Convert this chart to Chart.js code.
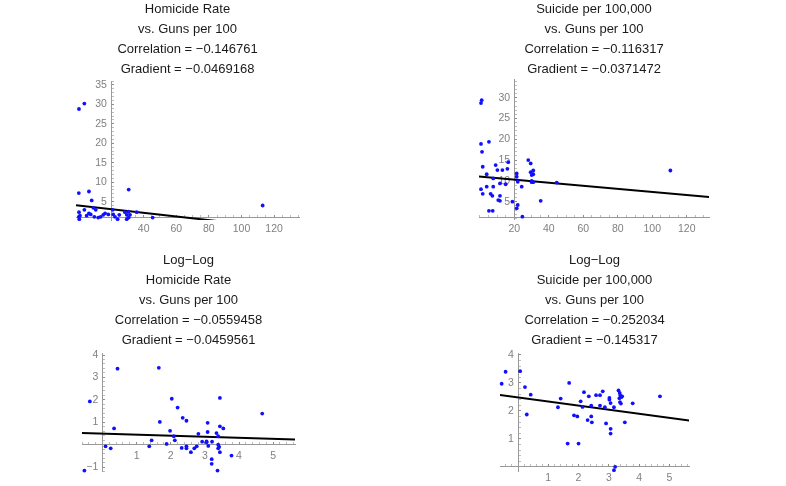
<!DOCTYPE html>
<html lang="en">
<head>
<meta charset="UTF-8">
<title>Guns per 100 vs homicide and suicide rates</title>
<style>
  body {
    margin: 0;
    width: 786px;
    height: 486px;
    overflow: hidden;
    position: relative;
    background: #fff;
  }
  .panel { position: absolute; }
</style>
</head>
<body>
<div class="panel" style="left:66px;top:-1px;width:243px;height:241px"><canvas id="c1"></canvas></div>
<div class="panel" style="left:469px;top:-1px;width:250px;height:240px"><canvas id="c2"></canvas></div>
<div class="panel" style="left:72px;top:250px;width:233px;height:236px"><canvas id="c3"></canvas></div>
<div class="panel" style="left:490px;top:250px;width:209px;height:236px"><canvas id="c4"></canvas></div>

<script src="https://cdn.jsdelivr.net/npm/chart.js"></script>
<script>
// --- Homicide rate vs guns per 100 ---
const homGuns = [0.3, 3.6, 0.2, 6.4, 8.1, 30.8, 113, 45.5, 35.7, 0.3, 0.2, 0.5, 0.9, 3.6, 5.0, 6.4,
  7.5, 9.1, 10.6, 9.7, 12.1, 13.6, 15.2, 16.3, 18.3, 21.0, 21.3, 22.4, 24.0, 25.0, 28.5, 29.6,
  30.6, 31.6, 30.8, 29.6];
const homRate = [28.8, 30.2, 7.2, 7.6, 5.3, 8.1, 4.0, 0.9, 2.3, 2.3, 1.1, 0.5, 1.4, 2.9, 1.4, 2.0,
  1.7, 3.4, 2.9, 1.1, 0.9, 1.1, 1.6, 2.0, 1.7, 2.9, 1.7, 1.1, 0.5, 1.6, 2.3, 1.6,
  2.4, 1.6, 0.9, 0.5];
const homFitX = [-1.5, 136];
const homFitY = [4.07, -2.38];

// --- Suicide per 100,000 vs guns per 100 ---
const suiGuns = [1.1, 0.7, 0.7, 1.3, 5.3, 1.7, 4.0, 0.7, 1.7, 4.0, 6.3, 7.3, 9.2, 7.8, 7.8, 10.2,
  13.1, 16.0, 16.5, 15.0, 11.7, 11.7, 10.7, 11.7, 5.3, 7.5, 18.9, 21.4, 21.4, 22.0, 22.0, 21.4,
  24.7, 24.3, 28.1, 29.5, 29.5, 31.0, 30.1, 31.0, 30.1, 30.1, 31.0, 44.6, 35.3, 110.5];
const suiRate = [29.4, 28.7, 18.9, 17.0, 19.4, 13.4, 11.6, 8.0, 6.9, 8.6, 6.9, 6.4, 13.8, 10.6, 8.6, 12.6,
  12.6, 12.9, 14.5, 9.2, 9.4, 6.4, 5.4, 5.2, 2.8, 2.8, 5.0, 11.8, 11.0, 9.8, 4.2, 3.4,
  1.4, 8.6, 15.0, 14.2, 12.1, 12.5, 11.4, 11.6, 10.0, 9.7, 9.7, 9.6, 5.2, 12.5];
const suiFitX = [-0.5, 133];
const suiFitY = [11.05, 6.1];

// --- Log-log homicide ---
const logHomX = [-0.53, -0.37, 0.09, 0.24, 0.34, 0.44, 1.44, 1.37, 1.65, 1.68, 1.88, 1.98, 2.03, 2.09,
  2.12, 2.2, 2.35, 2.46, 2.32, 2.46, 2.46, 2.59, 2.69, 2.76, 2.81, 2.92, 3.05, 3.05, 3.08, 3.08,
  3.10, 3.21, 3.2, 3.2, 3.34, 3.39, 3.39, 3.42, 3.39, 3.44, 3.44, 3.44, 3.54, 3.37, 3.78, 4.68];
const logHomY = [-1.15, 1.93, -0.07, -0.16, 0.73, 3.39, 0.2, -0.07, 3.43, 1.02, 0.04, 0.62, 2.05, 0.38,
  0.2, 1.66, 1.2, 1.07, -0.14, -0.07, -0.16, -0.33, -0.16, -0.07, 0.49, 0.14, 0.15, 0.11, 0.57, 0.98,
  -0.05, 0.14, -0.64, -0.85, 0.52, 0.38, 0.0, -0.09, -0.16, 0.82, 2.09, -0.33, 0.73, -1.15, -0.48, 1.39];
const logHomFitX = [-0.6, 5.64];
const logHomFitY = [0.52, 0.235];

// --- Log-log suicide ---
const logSuiX = [-0.54, -0.41, 0.07, 0.23, 0.42, 0.29, 1.32, 1.41, 1.69, 1.64, 1.85, 1.96, 2.0, 2.07,
  2.13, 2.18, 2.34, 2.30, 2.42, 2.42, 2.44, 2.58, 2.71, 2.71, 2.80, 2.87, 2.91, 3.02, 3.02, 3.06,
  3.06, 3.06, 3.17, 3.21, 3.17, 3.32, 3.36, 3.38, 3.41, 3.37, 3.40, 3.44, 3.35, 3.53, 3.79, 4.69];
const logSuiY = [2.97, 3.40, 3.42, 2.85, 2.58, 1.87, 2.13, 2.44, 3.0, 0.83, 1.84, 1.80, 0.83, 2.34,
  2.14, 2.67, 2.52, 1.67, 2.19, 1.80, 1.59, 2.56, 2.56, 2.19, 2.70, 2.13, 1.55, 2.46, 2.40, 2.28,
  1.36, 1.19, 2.13, 0.0, -0.12, 2.73, 2.64, 2.55, 2.49, 2.31, 2.26, 2.52, 2.45, 1.59, 2.27, 2.52];
const logSuiFitX = [-0.6, 5.66];
const logSuiFitY = [2.566, 1.658];

// tick labels
const gunTicks1 = [40, 60, 80, 100, 120];
const homTicks = [5, 10, 15, 20, 25, 30, 35];
const gunTicks2 = [20, 40, 60, 80, 100, 120];
const suiTicks = [5, 10, 15, 20, 25, 30];
const logXTicks = [1, 2, 3, 4, 5];
const logHomTicks = [-1, 1, 2, 3, 4];
const logSuiTicks = [1, 2, 3, 4];

const FONT = 'Liberation Sans';

// minor tick positions between a and b
function steps(a, b, s) {
  const out = [];
  for (let i = Math.round(a / s); i * s <= b + 1e-9; i++) out.push(+(i * s).toFixed(4));
  return out;
}

function fmt(v) {
  return v < 0 ? '\u2212' + Math.abs(v) : String(v);
}

function axis(dir, min, max, minor, labels, pos) {
  const isMajor = v => labels.some(l => Math.abs(l - v) < 1e-6);
  return {
    type: 'linear',
    position: pos,
    min: min,
    max: max,
    afterFit: s => { if (dir === 'x') s.height = 0; else s.width = 0; },
    afterBuildTicks: s => { s.ticks = minor.map(v => ({ value: v })); },
    grid: {
      drawOnChartArea: false,
      drawTicks: true,
      tickLength: -3, // Mathematica style: ticks point into the plot
      tickColor: ctx => (ctx.tick && isMajor(ctx.tick.value)) ? '#8c8c8c' : '#bdbdbd'
    },
    border: { color: '#999', width: 1 },
    ticks: {
      autoSkip: false,
      maxRotation: 0,
      padding: 8,
      color: '#808080',
      font: { family: FONT, size: 10.5 },
      callback: v => {
        if (!isMajor(v)) return '';
        const m = labels.find(l => Math.abs(l - v) < 1e-6);
        return dir === 'y' ? fmt(m) + '\u2009\u2009' : fmt(m);
      }
    }
  };
}

function makePanel(id, p) {
  new Chart(document.getElementById(id), {
    type: 'scatter',
    data: {
      datasets: [
        {
          data: p.xs.map((x, i) => ({ x: x, y: p.ys[i] })),
          backgroundColor: '#1010ff',
          borderWidth: 0,
          pointRadius: 1.9,
          clip: false
        },
        {
          data: p.fx.map((x, i) => ({ x: x, y: p.fy[i] })),
          showLine: true,
          borderColor: '#000',
          borderWidth: 2,
          pointRadius: 0,
          clip: 0
        }
      ]
    },
    options: {
      responsive: true,
      maintainAspectRatio: false,
      animation: false,
      events: [],
      layout: { padding: { left: 10, right: 10, top: 0, bottom: p.padB } },
      plugins: {
        legend: { display: false },
        tooltip: { enabled: false },
        title: {
          display: true,
          text: p.title,
          color: '#1a1a1a',
          font: { family: FONT, size: 13, weight: 'normal', lineHeight: '20px' },
          padding: { top: 0, bottom: p.gap }
        }
      },
      scales: {
        x: axis('x', p.xMin, p.xMax, p.xMinor, p.xLabels, { y: p.crossY }),
        y: axis('y', p.yMin, p.yMax, p.yMinor, p.yLabels, { x: p.crossX })
      }
    }
  });
}

makePanel('c1', {
  title: ['Homicide Rate', 'vs. Guns per 100', 'Correlation = \u22120.146761', 'Gradient = \u22120.0469168'],
  xs: homGuns, ys: homRate, fx: homFitX, fy: homFitY,
  xMin: -1.53, xMax: 135.3, yMin: 0.28, yMax: 36.0,
  xMinor: steps(0, 135, 5), yMinor: steps(1, 36, 1),
  xLabels: gunTicks1, yLabels: homTicks,
  crossX: 20, crossY: 0.9, padB: 20, gap: 2
});

makePanel('c2', {
  title: ['Suicide per 100,000', 'vs. Guns per 100', 'Correlation = \u22120.116317', 'Gradient = \u22120.0371472'],
  xs: suiGuns, ys: suiRate, fx: suiFitX, fy: suiFitY,
  xMin: -0.46, xMax: 132.9, yMin: 0.84, yMax: 34.5,
  xMinor: steps(0, 130, 5), yMinor: steps(1, 34, 1),
  xLabels: gunTicks2, yLabels: suiTicks,
  crossX: 20, crossY: 1.15, padB: 20, gap: 0
});

makePanel('c3', {
  title: ['Log\u2212Log', 'Homicide Rate', 'vs. Guns per 100', 'Correlation = \u22120.0559458', 'Gradient = \u22120.0459561'],
  xs: logHomX, ys: logHomY, fx: logHomFitX, fy: logHomFitY,
  xMin: -0.6, xMax: 5.64, yMin: -1.2, yMax: 4.09,
  xMinor: steps(-0.6, 5.6, 0.2), yMinor: steps(-1.2, 4.0, 0.2),
  xLabels: logXTicks, yLabels: logHomTicks,
  crossX: 0, crossY: 0, padB: 4, gap: 3
});

makePanel('c4', {
  title: ['Log\u2212Log', 'Suicide per 100,000', 'vs. Guns per 100', 'Correlation = \u22120.252034', 'Gradient = \u22120.145317'],
  xs: logSuiX, ys: logSuiY, fx: logSuiFitX, fy: logSuiFitY,
  xMin: -0.595, xMax: 5.65, yMin: -0.15, yMax: 4.07,
  xMinor: steps(-0.4, 5.6, 0.2), yMinor: steps(0, 4.0, 0.2),
  xLabels: logXTicks, yLabels: logSuiTicks,
  crossX: 0, crossY: 0, padB: 15, gap: 3
});
</script>
</body>
</html>
